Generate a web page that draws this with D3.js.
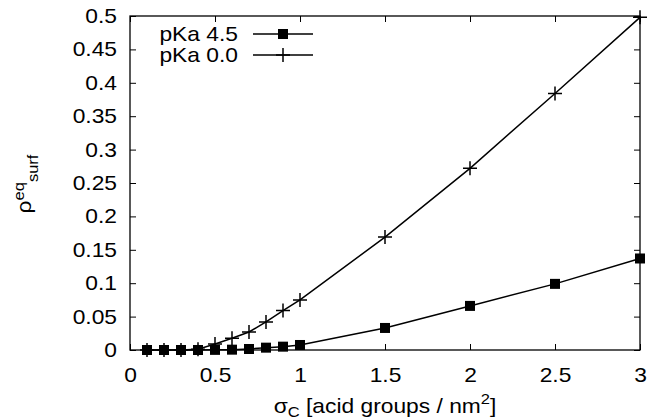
<!DOCTYPE html>
<html>
<head>
<meta charset="utf-8">
<script src="https://cdn.jsdelivr.net/npm/d3@7"></script>
<style>
  body { margin: 0; background: #fff; }
  text { font-family: "Liberation Sans", Arial, sans-serif; fill: #000; }
</style>
</head>
<body>
<div id="chart"></div>
<script>
// data
var sigmaC = [0.1, 0.2, 0.3, 0.4, 0.5, 0.6, 0.7, 0.8, 0.9, 1.0, 1.5, 2.0, 2.5, 3.0];
var rhoPKa45 = [0, 0, 0, 0, 0.0002, 0.0005, 0.0015, 0.0035, 0.005, 0.0075, 0.033, 0.066, 0.099, 0.137];
var rhoPKa00 = [0, 0, 0, 0.001, 0.009, 0.0175, 0.027, 0.042, 0.059, 0.075, 0.169, 0.272, 0.384, 0.498];
var seriesNames = ["pKa 4.5", "pKa 0.0"];
var xTicks = [0, 0.5, 1, 1.5, 2, 2.5, 3];
var yTicks = [0, 0.05, 0.1, 0.15, 0.2, 0.25, 0.3, 0.35, 0.4, 0.45, 0.5];

var W = 652, H = 419;
var margin = {top: 16, right: 12, bottom: 69, left: 130},
    width = W - margin.left - margin.right,
    height = H - margin.top - margin.bottom;

// the reference text is a little wider than Liberation Sans
var stretch = 1.14;
var fs = 20, fsSmall = 14.5;

var svg = d3.select("#chart")
    .append("svg")
    .attr("width", W)
    .attr("height", H)
    .append("g")
    .attr("transform", "translate(" + margin.left + "," + margin.top + ")");

var x = d3.scaleLinear().domain([0, 3]).range([0, width]);
var y = d3.scaleLinear().domain([0, 0.5]).range([height, 0]);

var tickLen = 6;
var fmt = function(d) { return String(+d.toFixed(2)); };

// axes with inward ticks on all four sides
var gx = svg.append("g")
    .attr("transform", "translate(0," + height + ")")
    .call(d3.axisBottom(x).tickValues(xTicks).tickSize(-tickLen).tickPadding(18).tickFormat(fmt));
var gy = svg.append("g")
    .call(d3.axisLeft(y).tickValues(yTicks).tickSize(-tickLen).tickPadding(13).tickFormat(fmt));
var gt = svg.append("g")
    .call(d3.axisTop(x).tickValues(xTicks).tickSize(-tickLen).tickFormat(""));
var gr = svg.append("g")
    .attr("transform", "translate(" + width + ",0)")
    .call(d3.axisRight(y).tickValues(yTicks).tickSize(-tickLen).tickFormat(""));

[gx, gy, gt, gr].forEach(function(g) {
  g.select(".domain").remove();
  g.selectAll("line").attr("stroke", "#000").attr("stroke-width", 1);
  g.selectAll("text").attr("font-size", fs).attr("font-family", "Liberation Sans, Arial, sans-serif");
});
gx.selectAll("text").attr("transform", "scale(" + stretch + ",1)");
gy.selectAll("text")
    .attr("x", -13 / stretch)
    .attr("transform", "scale(" + stretch + ",1)");

svg.append("rect")
    .attr("width", width)
    .attr("height", height)
    .attr("fill", "none")
    .attr("stroke", "#000")
    .attr("stroke-width", 1.3);

// lines
var line = d3.line()
    .x(function(d) { return x(d[0]); })
    .y(function(d) { return y(d[1]); });

var s45 = sigmaC.map(function(v, i) { return [v, rhoPKa45[i]]; });
var s00 = sigmaC.map(function(v, i) { return [v, rhoPKa00[i]]; });

svg.append("path").datum(s45).attr("d", line)
    .attr("fill", "none").attr("stroke", "#000").attr("stroke-width", 1.5);
svg.append("path").datum(s00).attr("d", line)
    .attr("fill", "none").attr("stroke", "#000").attr("stroke-width", 1.5);

var plusSize = 7, sqSize = 5;

function drawPlus(g, cx, cy) {
  g.append("path")
    .attr("d", "M" + (cx - plusSize) + "," + cy + "H" + (cx + plusSize) +
               "M" + cx + "," + (cy - plusSize) + "V" + (cy + plusSize))
    .attr("stroke", "#000").attr("stroke-width", 1.5).attr("fill", "none");
}
function drawSquare(g, cx, cy) {
  g.append("rect")
    .attr("x", cx - sqSize).attr("y", cy - sqSize)
    .attr("width", 2 * sqSize).attr("height", 2 * sqSize)
    .attr("fill", "#000");
}

var pts = svg.append("g");
s00.forEach(function(d) { drawPlus(pts, x(d[0]), y(d[1])); });
s45.forEach(function(d) { drawSquare(pts, x(d[0]), y(d[1])); });

// legend
var leg = svg.append("g");
var legRows = [18, 39];
seriesNames.forEach(function(name, i) {
  var ly = legRows[i];
  leg.append("text")
    .attr("transform", "translate(108," + ly + ") scale(" + stretch + ",1)")
    .attr("dy", "0.35em")
    .attr("text-anchor", "end")
    .attr("font-size", fs)
    .text(name);
  leg.append("line")
    .attr("x1", 123).attr("x2", 183)
    .attr("y1", ly).attr("y2", ly)
    .attr("stroke", "#000").attr("stroke-width", 1.5);
  if (i === 0) drawSquare(leg, 153, ly);
  else drawPlus(leg, 153, ly);
});

// axis titles
var xt = svg.append("text")
    .attr("transform", "translate(" + (width / 2) + "," + (height + 63) + ") scale(" + stretch + ",1)")
    .attr("text-anchor", "middle")
    .attr("font-size", fs);
xt.append("tspan").text("\u03c3");
xt.append("tspan").attr("font-size", fsSmall).attr("dy", 4).text("C");
xt.append("tspan").attr("dy", -4).text(" [acid groups / nm");
xt.append("tspan").attr("font-size", fsSmall).attr("dy", -9).text("2");
xt.append("tspan").attr("dy", 9).text("]");

var yt = svg.append("text")
    .attr("transform", "translate(" + (-99) + "," + (height / 2 + 1) + ") rotate(-90) scale(" + stretch + ",1)")
    .attr("text-anchor", "middle")
    .attr("font-size", fs);
yt.append("tspan").text("\u03c1");
yt.append("tspan").attr("font-size", fsSmall).attr("dy", -7).text("eq");
yt.append("tspan").attr("font-size", fsSmall).attr("dy", 14).text("surf");
</script>
</body>
</html>
